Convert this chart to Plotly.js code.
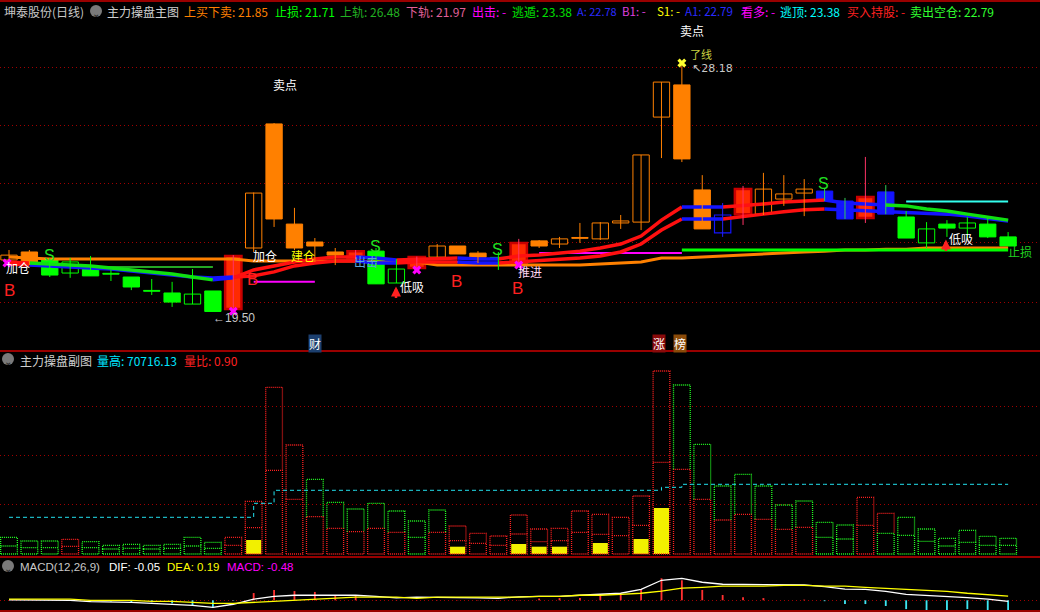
<!DOCTYPE html>
<html><head><meta charset="utf-8">
<script src="https://cdn.plot.ly/plotly-3.0.1.min.js"></script>
<style>html,body{margin:0;padding:0;background:#000;overflow:hidden}#chart{width:1040px;height:612px}</style>
</head><body><div id="chart"></div>
<script>
// ================= DATA =================
const bars = [...Array(50).keys()];
const open  = [21.33,21.61,21.33,20.87,21.08,20.85,20.73,20.25,20.17,19.78, 20.24,19.61,21.75,26.11,22.59,21.96,21.61,21.40,21.64,20.52, 21.05,21.43,21.82,21.57,21.41,21.22,22.00,21.89,22.11,22.07, 22.63,22.66,26.35,27.48,23.79,22.28,22.94,22.94,23.47,23.68, 23.75,23.40,22.80,23.72,22.84,21.93,22.59,22.45,22.59,22.14];
const high  = [21.68,21.68,21.40,21.40,21.47,20.98,20.73,20.66,20.56,21.01, 20.24,21.50,23.70,26.14,23.16,22.10,21.75,21.68,21.75,21.36, 21.45,21.89,21.82,21.64,21.61,22.07,22.03,22.14,22.63,22.66, 22.91,25.02,27.58,28.18,24.31,23.33,23.93,24.39,24.31,24.17, 23.86,23.51,24.95,23.96,23.05,22.66,22.73,22.84,22.80,22.31];
const low   = [21.15,21.15,20.73,20.70,20.77,20.59,20.27,20.10,19.68,19.78, 19.52,19.50,21.61,22.49,21.68,21.26,21.15,21.36,20.49,20.52, 21.03,21.43,21.54,21.22,20.98,21.22,21.75,21.75,21.93,22.03, 22.42,22.38,24.91,24.77,22.42,22.14,22.56,22.91,23.23,22.87, 23.40,22.77,22.63,22.94,22.10,21.75,22.14,22.10,22.10,21.82];
const close = [21.50,21.22,20.80,21.26,20.77,20.83,20.38,20.23,19.85,20.13, 19.52,21.47,23.68,22.77,21.75,21.82,21.50,21.64,20.49,21.01, 21.43,21.82,21.54,21.43,21.39,21.93,21.82,22.07,22.09,22.63, 22.70,25.02,27.58,24.88,22.42,22.91,23.82,23.82,23.65,23.82, 23.40,22.77,23.54,22.94,22.10,22.42,22.45,22.63,22.14,21.82];
// candle class: o=orange g=green r=red b=blue ; h=hollow f=filled
const kind = ['oh','of','gf','gh','gf','gf','gf','gf','gf','gh', 'gf','rf','oh','of','of','of','of','rf','gf','gh', 'rf','oh','of','of','gf','rf','of','oh','of','oh', 'oh','oh','oh','of','of','bh','rf','oh','oh','oh', 'bf','bf','rf','bf','gf','gh','gf','gh','gf','gf'];

// channel lines
const bandUpper = [21.26,21.22,21.19,21.15,21.12,21.05,20.98,20.91,20.84,20.73, 20.63,20.70,20.98,21.12,21.26,21.36,21.43,21.43,21.40,21.33, 21.36,21.40,21.40,21.36,21.36,21.47,21.50,21.57,21.64,21.75, 21.89,22.17,22.73,23.19,23.19,23.19,23.23,23.30,23.37,23.40, 23.44,23.33,23.30,23.26,23.23,23.12,23.05,22.94,22.84,22.73];
const bandLower = [21.19,21.15,21.12,21.08,21.05,21.01,20.94,20.87,20.80,20.73, 20.70,20.73,20.77,20.91,21.12,21.22,21.29,21.29,21.22,21.22, 21.26,21.26,21.26,21.22,21.22,21.26,21.29,21.33,21.40,21.47, 21.61,21.89,22.38,22.77,22.77,22.77,22.84,22.94,23.02,23.09, 23.12,23.09,23.05,23.05,23.02,22.98,22.94,22.87,22.80,22.70];
const upperState = ('rr'+'ggggggggg'+'b'+'rrrrrr'+'bb'+'rrr'+'bb'+'rrrrrrrrr'+'bb'+'rrrrr'+'bbb'+'gggggg').split('');
const lowerState = ('rr'+'bbbbbbbbbb'+'rrrrrr'+'bb'+'rrr'+'bb'+'rrrrrrrrr'+'bb'+'rrrrr'+'bbbbbbbbb').split('');
const baseLine  = [21.43,21.40,21.36,21.36,21.36,21.36,21.36,21.36,21.36,21.36, 21.36,21.36,21.29,21.29,21.29,21.29,21.29,21.29,21.26,21.26, 21.26,21.15,21.15,21.15,21.15,21.15,21.15,21.15,21.15,21.19, 21.22,21.26,21.40,21.40,21.43,21.47,21.50,21.54,21.57,21.61, 21.64,21.68,21.68,21.71,21.71,21.75,21.75,21.75,21.75,21.75];
const stopLine  = bars.map(i => i >= 33 ? 21.68 : null);
const pinkLine  = [null,null,null,null,null,null,null,null,null,null, null,null,20.56,20.56,20.56,20.56,null,null,null,null, null,21.26,21.26,21.26,null,null,21.57,21.57,21.57,21.57, 21.57,21.57,21.57,21.57,null,null,null,null,null,null, null,null,null,null,null,null,null,null,null,null];
const topLine   = bars.map(i => i >= 44 ? 23.38 : null);
const thinLine  = bars.map(i => (i >= 3 && i <= 10) ? 21.08 : null);

// signals on the main chart: text, bar position, price
const sigText  = ['加仓','B','S','加仓','B','建仓','卖点','S','出击','低吸','B','S','推进','B','S','低吸','止损'];
const sigBar   = [0.45,0,2,12.55,11.95,14.4,13.55,17.95,17.5,19.75,21.95,23.95,25.55,24.95,39.95,46.7,49.6];
const sigPrice = [21.08,20.27,21.50,21.50,20.66,21.47,27.48,21.82,21.26,20.38,20.56,21.71,20.94,20.31,24.00,22.07,21.64];
const sigColor = ['#ffffff','#ff2020','#20e020','#ffffff','#ff2020','#ffff00','#ffffff','#20e020','#5aa6d6','#ffffff','#ff2020','#20e020','#ffd6f4','#ff2020','#20e020','#ffffff','#20d020'];
const crossBar = [-0.1, 11, 20, 25];
const crossPrice = [21.22, 19.53, 20.98, 21.15];
const arrowBar = [18.98, 45.95];
const arrowPrice = [20.40, 22.05];

// volume sub chart
const volTotal = [16.7,13,13,14.7,12.3,8.7,9.7,8.7,9.7,16.7, 11.7,16.7,52.7,166.7,109,74.7,51.7,45,50.7,43, 33,44,28,20.7,18,39,25,25.7,43,39.7, 36.7,58,183,169,109.7,68,79.7,68,49,53, 31.7,29,56.7,40.7,36.7,25,15.7,23.7,17.7,15.7];
const volPart  = [8,6.3,6.3,7.7,6.3,5,5.7,5,5.7,8, 5.7,8.7,26.3,83.7,54.7,37.3,25.7,22.3,25.7,21.7, 16.7,21.7,13.3,10.7,8.7,20,12.3,13.3,21.7,19.7, 18.3,28.7,91.7,84.7,54.7,34,39.7,34.7,24.7,26.7, 16.7,15,28.7,20.7,18.7,12.7,8,11.7,8.7,8.7];
const volMark  = [null,null,null,null,null,null,null,null,null,null, null,null,14,null,null,null,null,null,null,null, null,null,7.3,null,null,10,7.3,7.3,null,11, null,15,46,null,null,null,null,null,null,null, null,null,null,null,null,null,null,null,null,null];
const volLevel = [36.7,36.7,36.7,36.7,36.7,36.7,36.7,36.7,36.7,36.7, 36.7,36.7,50.7,63.7,63.7,63.7,63.7,63.7,63.7,63.7, 63.7,63.7,63.7,63.7,63.7,63.7,63.7,63.7,63.7,63.7, 63.7,63.7,66.7,69.7,69.7,69.7,69.7,69.7,69.7,69.7, 69.7,69.7,69.7,69.7,69.7,69.7,69.7,69.7,69.7,69.7];
const volUpState  = ('ggg'+'r'+'ggggggg'+'rrrr'+'ggggggg'+'rrrrrrrrrrr'+'ggggggggg'+'rr'+'gggggg').split('');
const volLowState = ('ggg'+'r'+'ggggggg'+'rrrrrrrrr'+'g'+'rrrrrrrrrrrrrrrrrrr'+'gg'+'r'+'ggggggg').split('');

// MACD
const dif  = [0.02,0.01,0.00,0.00,-0.06,-0.07,-0.09,-0.14,-0.18,-0.23, -0.32,-0.18,0.05,0.18,0.23,0.23,0.23,0.23,0.18,0.11, 0.14,0.14,0.14,0.11,0.09,0.16,0.18,0.18,0.23,0.27, 0.32,0.50,0.91,1.00,0.82,0.73,0.73,0.71,0.71,0.70, 0.62,0.51,0.50,0.41,0.27,0.23,0.17,0.12,0.05,-0.05];
const dea  = [0.05,0.05,0.05,0.05,0.00,0.00,0.00,-0.05,-0.05,-0.09, -0.14,-0.14,-0.09,-0.05,0.00,0.05,0.09,0.14,0.14,0.14, 0.09,0.14,0.14,0.14,0.14,0.14,0.18,0.18,0.23,0.23, 0.27,0.32,0.42,0.55,0.59,0.64,0.64,0.64,0.68,0.68, 0.64,0.64,0.59,0.55,0.50,0.45,0.41,0.32,0.27,0.19];
const macd = [0,0,0,0,-0.05,-0.05,-0.09,-0.09,-0.14,-0.24, -0.32,-0.02,0.33,0.47,0.42,0.38,0.24,0.20,0.01,0.01, 0.01,0.01,0.01,0.01,0.01,0.01,0.08,0.10,0.10,0.20, 0.24,0.51,1.00,0.91,0.47,0.24,0.14,0.10,0.00,0.03, -0.04,-0.17,-0.17,-0.26,-0.40,-0.44,-0.44,-0.40,-0.44,-0.48];

// ================= BUILD =================
const FONT = '"Noto Sans CJK SC","Noto Sans",sans-serif';
const traces = [];
const H = 612, W = 1040;
const py = p => 1 - p / H;   // pixel row -> paper
const px = p => p / W;

function line(y, color, width, axis) {
  return {type:'scatter', mode:'lines', x:bars, y, line:{color, width}, xaxis:'x', yaxis:axis||'y', hoverinfo:'skip', connectgaps:false};
}
traces.push(line(baseLine, '#ff8000', 3));
traces.push(line(thinLine, '#30e030', 1.5));
traces.push(line(pinkLine, '#ff00ff', 2));
traces.push(line(stopLine, '#00ff00', 3));
traces.push(line(topLine, '#33ffee', 2));

const toneColor = {r:'#ff1010', g:'#10e010', b:'#1414ff'};
function bandTraces(vals, state) {
  const out = {};
  let a = 0;
  while (a < vals.length) {
    let b = a;
    while (b + 1 < vals.length && state[b + 1] === state[a]) b++;
    const c = state[a];
    out[c] = out[c] || {x:[], y:[]};
    for (let i = Math.max(a - 1, 0); i <= b; i++) { out[c].x.push(i); out[c].y.push(vals[i]); }
    out[c].x.push(null); out[c].y.push(null);
    a = b + 1;
  }
  return Object.keys(out).map(c => ({type:'scatter', mode:'lines', x:out[c].x, y:out[c].y,
    line:{color:toneColor[c], width:3.5}, xaxis:'x', yaxis:'y', hoverinfo:'skip'}));
}
bandTraces(bandLower, lowerState).forEach(t => traces.push(t));
bandTraces(bandUpper, upperState).forEach(t => traces.push(t));

function wick(kinds, color) {
  const x = [], y = [];
  bars.forEach(i => { if (kinds.includes(kind[i])) { x.push(i, i, null); y.push(low[i], high[i], null); } });
  return {type:'scatter', mode:'lines', x, y, line:{color, width:1}, xaxis:'x', yaxis:'y', hoverinfo:'skip'};
}
traces.push(wick(['oh','of'], '#ff8000'));
traces.push(wick(['gf','gh'], '#00ff00'));
traces.push(wick(['rf'], '#ff3366'));
traces.push(wick(['bf'], '#33cc55'));
traces.push(wick(['bh'], '#2020ff'));

function body(k, fill, lineColor, lw) {
  const x = [], base = [], y = [];
  bars.forEach(i => {
    if (kind[i] === k) {
      const lo = Math.min(open[i], close[i]), hi = Math.max(open[i], close[i]);
      x.push(i); base.push(lo); y.push(Math.max(hi - lo, 0.03));
    }
  });
  return {type:'bar', x, y, base, width:0.8, marker:{color:fill, line:{color:lineColor, width:lw}}, xaxis:'x', yaxis:'y', hoverinfo:'skip'};
}
traces.push(body('oh', '#000000', '#ff8000', 1));
traces.push(body('of', '#ff8000', '#ff8000', 1));
traces.push(body('gh', '#000000', '#00ff00', 1));
traces.push(body('gf', '#00ff00', '#00ff00', 1));
traces.push(body('bh', '#000000', '#1414ff', 1.2));
traces.push(body('bf', '#1414ff', '#1414ff', 1));
traces.push(body('rf', '#ff2a00', '#c80000', 2.5));

traces.push({type:'scatter', mode:'markers', x:crossBar, y:crossPrice, marker:{symbol:'x', size:8, color:'#ff00ff', line:{width:0}}, xaxis:'x', yaxis:'y', hoverinfo:'skip'});
traces.push({type:'scatter', mode:'markers', x:[33], y:[28.25], marker:{symbol:'x', size:8, color:'#ffff30', line:{width:0}}, xaxis:'x', yaxis:'y', hoverinfo:'skip', cliponaxis:false});

// ---------- volume sub chart ----------
const hw = 0.41;
function volBoxes(col) {
  const x = [], y = [];
  bars.forEach(i => {
    const L = i - hw, R = i + hw;
    if (volLowState[i] === col) { x.push(L, L, R, R, L, null); y.push(0, volPart[i], volPart[i], 0, 0, null); }
    if (volUpState[i] === col) { x.push(L, L, R, R, null); y.push(volPart[i], volTotal[i], volTotal[i], volPart[i], null); }
  });
  return {type:'scatter', mode:'lines', x, y, line:{color: col === 'r' ? '#ff2020' : '#22ff22', width:1.3, dash:'1px,1px'}, xaxis:'x', yaxis:'y2', hoverinfo:'skip'};
}
traces.push({type:'bar', x:bars, y:volMark, width:0.74, marker:{color:'#f2f000', line:{width:0}}, xaxis:'x', yaxis:'y2', hoverinfo:'skip'});
traces.push(volBoxes('r'));
traces.push(volBoxes('g'));
traces.push({type:'scatter', mode:'lines', x:bars, y:volLevel, line:{color:'#22e0ee', width:1, dash:'4px,3px', shape:'hv'}, xaxis:'x', yaxis:'y2', hoverinfo:'skip'});

// ---------- MACD ----------
traces.push({type:'bar', x:bars, y:macd, width:0.09, marker:{color:macd.map(v => v >= 0 ? '#ff3030' : '#3ee6f2'), line:{width:0}}, xaxis:'x', yaxis:'y3', hoverinfo:'skip'});
traces.push(line(dif, '#ffffff', 1.3, 'y3'));
traces.push(line(dea, '#ffff00', 1.3, 'y3'));

// ================= ANNOTATIONS =================
const ann = [];
function hdr(text, x, y, color, size, family) {
  ann.push({text, xref:'paper', yref:'paper', x:px(x), y:py(y), xanchor:'left', yanchor:'middle', showarrow:false,
    font:{family: family || FONT, size: size || 12, color}});
}
hdr('坤泰股份(日线)', 2, 11, '#c8c8c8');
hdr('主力操盘主图', 105, 11, '#d0d0d0');
hdr('上买下卖: 21.85', 182, 11, '#ff8000');
hdr('止损: 21.71', 273, 11, '#00ff00');
hdr('上轨: 26.48', 338, 11, '#22b022');
hdr('下轨: 21.97', 404, 11, '#e0609a');
hdr('出击: -', 470, 11, '#ff00ff');
hdr('逃遁: 23.38', 510, 11, '#00e000');
hdr('A: 22.78', 575, 11, '#2a2aff', 11);
hdr('B1: -', 620, 11, '#e040e0', 11.5);
hdr('S1: -', 655, 11, '#ffff00', 11.5);
hdr('A1: 22.79', 683, 11, '#2a2aff', 11.5);
hdr('看多: -', 739, 11, '#ff00ff');
hdr('逃顶: 23.38', 778, 11, '#00ffff');
hdr('买入持股: -', 845, 11, '#ff2020');
hdr('卖出空仓: 22.79', 908, 11, '#30ff30');
hdr('主力操盘副图', 18, 360, '#d0d0d0');
hdr('量高: 70716.13', 95, 360, '#00e5ff');
hdr('量比: 0.90', 182, 360, '#ff2020');
hdr('MACD(12,26,9)', 18, 567, '#c8c8c8', 11.5, 'Liberation Sans');
hdr('DIF: -0.05', 107, 567, '#ffffff', 11.5, 'Liberation Sans');
hdr('DEA: 0.19', 165, 567, '#ffff00', 11.5, 'Liberation Sans');
hdr('MACD: -0.48', 225, 567, '#ff00ff', 11.5, 'Liberation Sans');
[[96, 11], [8, 359], [8, 566]].forEach(([cx, cy]) => ann.push({text:'⌄', xref:'paper', yref:'paper', x:px(cx), y:py(cy+2), xanchor:'center', yanchor:'middle', showarrow:false, font:{family:'DejaVu Sans', size:10, color:'#202020'}}));

sigText.forEach((t, k) => {
  const isLetter = (t === 'B' || t === 'S');
  ann.push({text:t, x:sigBar[k], y:sigPrice[k], xref:'x', yref:'y', xanchor:'center', yanchor:'middle', showarrow:false,
    font:{family: isLetter ? 'Liberation Sans' : FONT, size: isLetter ? (t === 'B' ? 17 : 16) : 12, color: sigColor[k]}});
});
// top "卖点" above the 28.18 high, just under the header row
ann.push({text:'卖点', x:33.5, xref:'x', yref:'paper', y:py(30), xanchor:'center', yanchor:'middle', showarrow:false, font:{family:FONT, size:12, color:'#ffffff'}});
ann.push({text:'←19.50', x:9.9, y:19.29, xref:'x', yref:'y', xanchor:'left', yanchor:'middle', showarrow:false, font:{family:'Liberation Sans', size:12, color:'#c8c8c8'}});
ann.push({text:'↖28.18', x:33.4, y:28.06, xref:'x', yref:'y', xanchor:'left', yanchor:'middle', showarrow:false, font:{family:'DejaVu Sans', size:11, color:'#c8c8c8'}});
ann.push({text:'了线', x:33.95, y:28.58, xref:'x', yref:'y', xanchor:'center', yanchor:'middle', showarrow:false, font:{family:FONT, size:11, color:'#c8d040'}});
arrowBar.forEach((b, k) => ann.push({text:'', x:b, y:arrowPrice[k], xref:'x', yref:'y', showarrow:true, ax:0, ay:13, arrowhead:2, arrowsize:0.8, arrowwidth:2.5, arrowcolor:'#ff2020'}));
[['财', 15.0, '#1c3f6e'], ['涨', 31.9, '#8a0a0a'], ['榜', 32.9, '#8a4a08']].forEach(([t, b, bg]) =>
  ann.push({text:t, x:b, xref:'x', yref:'paper', y:py(343), xanchor:'center', yanchor:'middle', showarrow:false, bgcolor:bg, borderpad:0, font:{family:FONT, size:12, color:'#ffffff'}}));

// ================= SHAPES =================
const shapes = [];
[1, 351, 557, 611].forEach(r => shapes.push({type:'line', xref:'paper', yref:'paper', x0:0, x1:1, y0:py(r), y1:py(r), line:{color:'#cc0000', width:1.5}}));
[[96, 11], [8, 359], [8, 566]].forEach(([cx, cy]) => shapes.push({type:'circle', xref:'paper', yref:'paper', x0:px(cx-6), x1:px(cx+6), y0:py(cy+6), y1:py(cy-6), fillcolor:'#7a7a7a', line:{width:0}}));

// ================= LAYOUT =================
const gridCommon = {showticklabels:false, zeroline:false, showline:false, ticks:'', gridcolor:'#a00000', griddash:'1px,3px', gridwidth:1, fixedrange:true};
const layout = {
  width:W, height:H, margin:{l:0, r:0, t:0, b:0},
  paper_bgcolor:'#000000', plot_bgcolor:'#000000', showlegend:false, barmode:'overlay', hovermode:false,
  xaxis:{range:[-0.4414, 50.564], showgrid:false, zeroline:false, showticklabels:false, showline:false, ticks:'', anchor:'y', fixedrange:true},
  yaxis:Object.assign({domain:[py(350), py(22)], range:[18.166, 29.691], tickvals:[28.11, 26.04, 24.00, 21.93, 19.85], showgrid:true}, gridCommon),
  yaxis2:Object.assign({domain:[py(556), py(352)], range:[-2, 202], tickvals:[148, 99, 50], showgrid:true, anchor:'x'}, gridCommon),
  yaxis3:Object.assign({domain:[py(610), py(558)], range:[-0.441, 1.923], tickvals:[0], showgrid:true, anchor:'x'}, gridCommon),
  annotations:ann, shapes
};
Plotly.newPlot('chart', traces, layout, {staticPlot:true, displayModeBar:false});
</script>
</body></html>
